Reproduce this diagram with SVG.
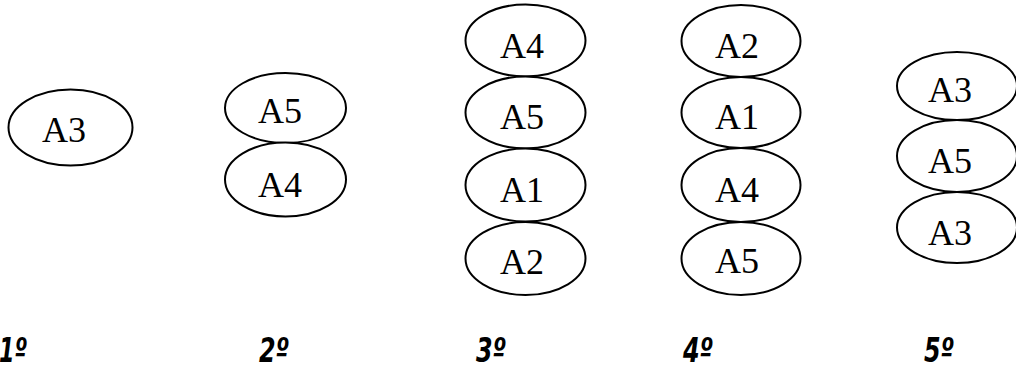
<svg xmlns="http://www.w3.org/2000/svg" width="1016" height="368" viewBox="0 0 1016 368">
<style>
.n ellipse{fill:#fff;stroke:#000;stroke-width:2}
.n text{font-family:"Liberation Serif","Times New Roman",serif;font-size:36px;fill:#000}
.lbl{font-family:"DejaVu Sans Condensed","DejaVu Sans",sans-serif;font-size:34px;font-weight:bold;font-style:oblique;fill:#000}
</style>
<rect width="1016" height="368" fill="#fff"/>
<g id="connectors"/>
<g id="s1n1" class="n"><ellipse cx="70.5" cy="127.5" rx="62" ry="38"/><text x="42" y="142">A3</text></g>
<g id="s2n1" class="n"><ellipse cx="285.5" cy="108" rx="60.5" ry="35"/><text x="258" y="123">A5</text></g>
<g id="s2n2" class="n"><ellipse cx="285.5" cy="179.5" rx="60.5" ry="37"/><text x="258" y="197">A4</text></g>
<g id="s3n1" class="n"><ellipse cx="525.5" cy="40.5" rx="60" ry="36"/><text x="500" y="58">A4</text></g>
<g id="s3n2" class="n"><ellipse cx="525.5" cy="112.5" rx="60" ry="36"/><text x="500" y="129">A5</text></g>
<g id="s3n3" class="n"><ellipse cx="525.5" cy="185" rx="60" ry="36.5"/><text x="500" y="202">A1</text></g>
<g id="s3n4" class="n"><ellipse cx="525.5" cy="258.5" rx="60" ry="36.5"/><text x="500" y="274">A2</text></g>
<g id="s4n1" class="n"><ellipse cx="741" cy="41" rx="59.5" ry="36"/><text x="715" y="58">A2</text></g>
<g id="s4n2" class="n"><ellipse cx="741" cy="112.5" rx="59.5" ry="35.5"/><text x="715" y="129">A1</text></g>
<g id="s4n3" class="n"><ellipse cx="741" cy="185" rx="59.5" ry="37"/><text x="715" y="202">A4</text></g>
<g id="s4n4" class="n"><ellipse cx="741" cy="258.5" rx="59.5" ry="36.5"/><text x="715" y="273">A5</text></g>
<g id="s5n1" class="n"><ellipse cx="957" cy="86" rx="60" ry="34"/><text x="928" y="102">A3</text></g>
<g id="s5n2" class="n"><ellipse cx="957" cy="156" rx="60" ry="36"/><text x="928" y="173">A5</text></g>
<g id="s5n3" class="n"><ellipse cx="957" cy="227.5" rx="60" ry="35.5"/><text x="928" y="245">A3</text></g>
<g id="labels">
<text class="lbl" x="-1" y="362" textLength="28" lengthAdjust="spacingAndGlyphs">1º</text>
<text class="lbl" x="259" y="362" textLength="30" lengthAdjust="spacingAndGlyphs">2º</text>
<text class="lbl" x="476" y="362" textLength="30" lengthAdjust="spacingAndGlyphs">3º</text>
<text class="lbl" x="683" y="362" textLength="30" lengthAdjust="spacingAndGlyphs">4º</text>
<text class="lbl" x="924" y="362" textLength="30" lengthAdjust="spacingAndGlyphs">5º</text>
</g>
</svg>
